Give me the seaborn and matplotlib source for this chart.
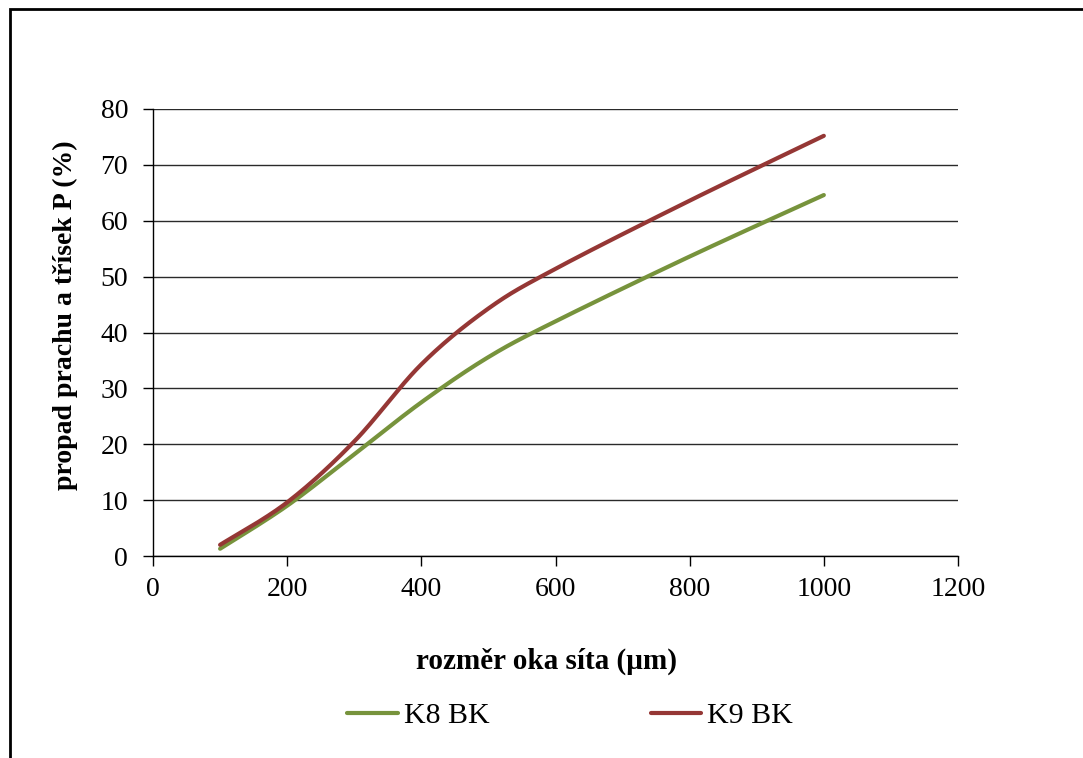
import numpy as np
import pandas as pd
import matplotlib
matplotlib.use("Agg")
import matplotlib.pyplot as plt
from matplotlib.lines import Line2D
from matplotlib.patches import Rectangle
import seaborn as sns

# Sieve mesh sizes (µm) and cumulative passing fraction (%)
mesh_um = [100, 200, 300, 400, 500, 600, 800, 1000]
k8_bk = [1.3, 9.0, 18.2, 27.5, 35.6, 42.0, 53.6, 64.6]
k9_bk = [2.0, 9.6, 20.5, 34.3, 44.3, 51.4, 63.6, 75.2]
series_names = ["K8 BK", "K9 BK"]
series_colors = ["#77933C", "#953735"]
y_ticks = [0, 10, 20, 30, 40, 50, 60, 70, 80]
x_ticks = [0, 200, 400, 600, 800, 1000, 1200]


def smooth_line(xs, ys, steps=40):
    """Smoothed polyline through the points (Bezier segments, Catmull-Rom tangents)."""
    p = np.column_stack([xs, ys]).astype(float)
    ext = np.vstack([p[0], p, p[-1]])
    out = []
    t = np.linspace(0, 1, steps)[:, None]
    for i in range(len(p) - 1):
        p0, p1, p2, p3 = ext[i], ext[i + 1], ext[i + 2], ext[i + 3]
        c1 = p1 + (p2 - p0) / 6.0
        c2 = p2 - (p3 - p1) / 6.0
        seg = ((1 - t) ** 3) * p1 + 3 * ((1 - t) ** 2) * t * c1 + 3 * (1 - t) * t ** 2 * c2 + t ** 3 * p2
        out.append(seg if i == 0 else seg[1:])
    out = np.vstack(out)
    return out[:, 0], out[:, 1]


frames = []
for name, vals in zip(series_names, [k8_bk, k9_bk]):
    sx, sy = smooth_line(mesh_um, vals)
    frames.append(pd.DataFrame({"mesh": sx, "passing": sy, "series": name}))
df = pd.concat(frames, ignore_index=True)

sns.set_theme(style="white")
plt.rcParams["font.family"] = ["Liberation Serif", "DejaVu Serif"]
plt.rcParams["text.color"] = "black"
plt.rcParams["axes.labelcolor"] = "black"

W, H = 1083, 758
fig = plt.figure(figsize=(W / 100, H / 100), dpi=100)
ax = fig.add_axes([153 / W, 1 - 556 / H, (958 - 153) / W, (556 - 109) / H])

sns.lineplot(data=df, x="mesh", y="passing", hue="series", hue_order=series_names,
             palette=series_colors, sort=False, estimator=None, units="series",
             linewidth=3.0, legend=False, ax=ax, solid_capstyle="round")

ax.set_xlim(0, 1200)
ax.set_ylim(0, 80)
ax.set_xticks(x_ticks)
ax.set_yticks(y_ticks)
ax.tick_params(axis="both", labelsize=20, colors="black", direction="out",
               length=7, width=1)
ax.tick_params(axis="y", pad=11)
ax.tick_params(axis="x", pad=8)
ax.tick_params(axis="both", which="both", left=True, bottom=True)
ax.yaxis.grid(True, color="#2a2a2a", linewidth=1.0)
ax.xaxis.grid(False)
for side in ["top", "right"]:
    ax.spines[side].set_visible(False)
for side in ["left", "bottom"]:
    ax.spines[side].set_color("black")
    ax.spines[side].set_linewidth(1.0)

ax.set_xlabel("rozměr oka síta (µm)", fontsize=21, fontweight="bold")
ax.set_ylabel("propad prachu a třísek P (%)", fontsize=20, fontweight="bold")
ax.xaxis.set_label_coords(0.489, -0.205)
ax.yaxis.set_label_coords(-0.093, 0.539)

handles = [Line2D([0], [0], color=c, linewidth=3.0, solid_capstyle="round") for c in series_colors]
fig.legend(handles, series_names, loc="center", bbox_to_anchor=(570 / W, 1 - 716 / H),
           ncol=2, frameon=False, fontsize=21.5, handlelength=1.7, handletextpad=0.2,
           columnspacing=5.4)

# chart area frame
fig.patches.append(Rectangle((10 / W, -0.05), 1.1, 1 - 9 / H + 0.05, transform=fig.transFigure,
                             fill=False, edgecolor="black", linewidth=2.0, zorder=10))

fig.savefig("out.png", dpi=100, facecolor="white")
